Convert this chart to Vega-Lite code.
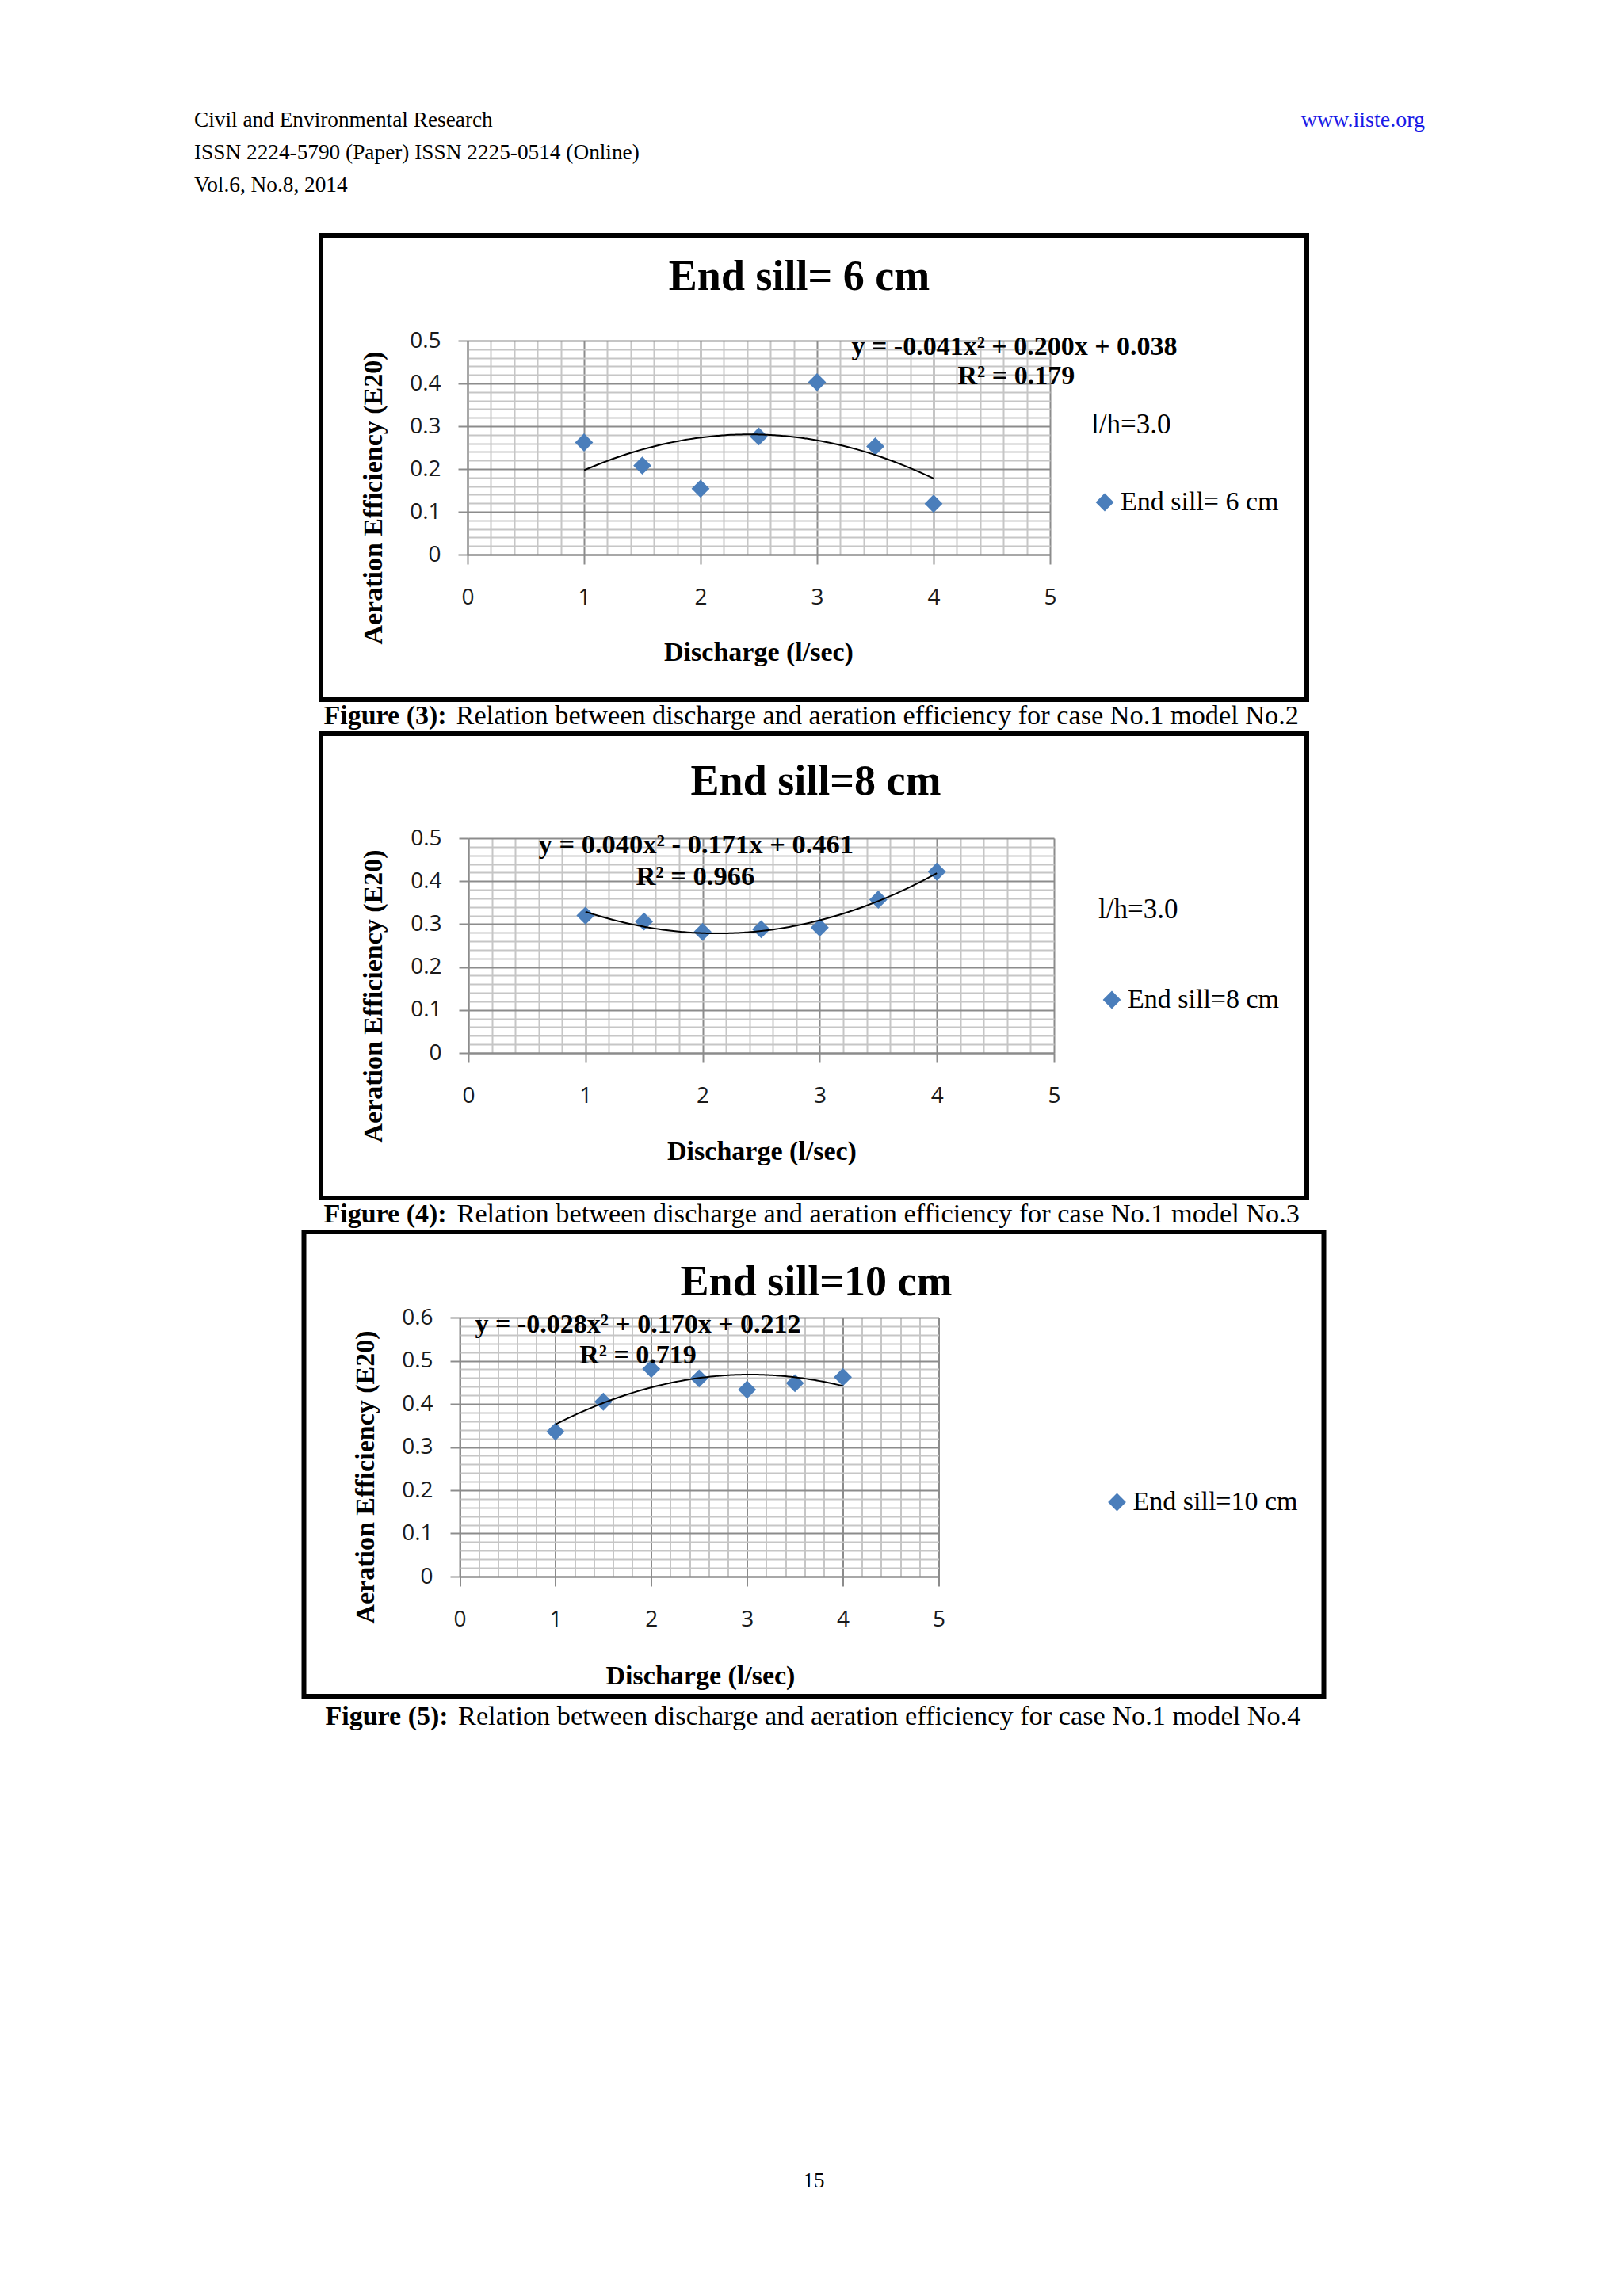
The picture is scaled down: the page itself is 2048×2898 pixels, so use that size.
{
  "$schema": "https://vega.github.io/schema/vega-lite/v6.json",
  "background": "white",
  "padding": {"left": 240, "top": 134, "right": 10, "bottom": 10},
  "bounds": "flush",
  "center": true,
  "spacing": 43,
  "resolve": {"scale": {"color": "independent"}, "legend": {"color": "independent"}},
  "title": {"text": "15", "orient": "bottom", "anchor": "middle", "font": "Liberation Serif", "fontSize": 27, "fontWeight": "normal", "color": "black", "offset": 554},
  "datasets": {
    "header": [
      {"pos": 0, "line": 0, "side": "left", "text": "Civil and Environmental Research"},
      {"pos": 0, "line": 1, "side": "left", "text": "ISSN 2224-5790 (Paper) ISSN 2225-0514 (Online)"},
      {"pos": 0, "line": 2, "side": "left", "text": "Vol.6, No.8, 2014"},
      {"pos": 1, "line": 0, "side": "right", "text": "www.iiste.org"}
    ],
    "sill6": [
      {"discharge": 1, "efficiency": 0.262, "series": "End sill= 6 cm"},
      {"discharge": 1.5, "efficiency": 0.208, "series": "End sill= 6 cm"},
      {"discharge": 2, "efficiency": 0.154, "series": "End sill= 6 cm"},
      {"discharge": 2.5, "efficiency": 0.276, "series": "End sill= 6 cm"},
      {"discharge": 3, "efficiency": 0.403, "series": "End sill= 6 cm"},
      {"discharge": 3.5, "efficiency": 0.253, "series": "End sill= 6 cm"},
      {"discharge": 4, "efficiency": 0.119, "series": "End sill= 6 cm"}
    ],
    "sill6eq": [
      {"discharge": 4.694, "efficiency": 0.485, "label": "y = -0.041x² + 0.200x + 0.038"},
      {"discharge": 4.71, "efficiency": 0.417, "label": "R² = 0.179"}
    ],
    "sill8": [
      {"discharge": 1, "efficiency": 0.32, "series": "End sill=8 cm"},
      {"discharge": 1.5, "efficiency": 0.306, "series": "End sill=8 cm"},
      {"discharge": 2, "efficiency": 0.282, "series": "End sill=8 cm"},
      {"discharge": 2.5, "efficiency": 0.288, "series": "End sill=8 cm"},
      {"discharge": 3, "efficiency": 0.292, "series": "End sill=8 cm"},
      {"discharge": 3.5, "efficiency": 0.357, "series": "End sill=8 cm"},
      {"discharge": 4, "efficiency": 0.422, "series": "End sill=8 cm"}
    ],
    "sill8eq": [
      {"discharge": 1.944, "efficiency": 0.483, "label": "y = 0.040x² - 0.171x + 0.461"},
      {"discharge": 1.937, "efficiency": 0.41, "label": "R² = 0.966"}
    ],
    "sill10": [
      {"discharge": 1, "efficiency": 0.336, "series": "End sill=10 cm"},
      {"discharge": 1.5, "efficiency": 0.405, "series": "End sill=10 cm"},
      {"discharge": 2, "efficiency": 0.481, "series": "End sill=10 cm"},
      {"discharge": 2.5, "efficiency": 0.459, "series": "End sill=10 cm"},
      {"discharge": 3, "efficiency": 0.433, "series": "End sill=10 cm"},
      {"discharge": 3.5, "efficiency": 0.448, "series": "End sill=10 cm"},
      {"discharge": 4, "efficiency": 0.462, "series": "End sill=10 cm"}
    ],
    "sill10eq": [
      {"discharge": 1.861, "efficiency": 0.5835, "label": "y = -0.028x² + 0.170x + 0.212"},
      {"discharge": 1.861, "efficiency": 0.512, "label": "R² = 0.719"}
    ]
  },
  "vconcat": [
    {
      "width": 1574,
      "height": 120,
      "view": {"stroke": null},
      "data": {"name": "header"},
      "layer": [
        {
          "transform": [{"filter": "datum.side == 'left'"}],
          "mark": {"type": "text", "align": "left", "baseline": "middle", "dx": 5, "font": "Liberation Serif", "fontSize": 27.3, "color": "black"},
          "encoding": {
            "x": {"field": "pos", "type": "quantitative", "scale": {"domain": [0, 1], "nice": false},
              "axis": {"orient": "bottom", "offset": 8, "domain": true, "domainColor": "black", "domainWidth": 3, "ticks": false, "labels": false, "grid": false, "title": null}},
            "y": {"field": "line", "type": "quantitative", "scale": {"domain": [0, 2], "range": [18, 100], "nice": false}, "axis": null},
            "text": {"field": "text"}
          }
        },
        {
          "transform": [{"filter": "datum.side == 'right'"}],
          "mark": {"type": "text", "align": "right", "baseline": "middle", "dx": -16, "font": "Liberation Serif", "fontSize": 28, "color": "#1a1ae6"},
          "encoding": {
            "x": {"field": "pos", "type": "quantitative", "scale": {"domain": [0, 1], "nice": false}, "axis": null},
            "y": {"field": "line", "type": "quantitative", "scale": {"domain": [0, 2], "range": [18, 100], "nice": false}, "axis": null},
            "text": {"field": "text"}
          }
        }
      ]
    },
    {
      "width": 1244,
      "height": 586,
      "view": {"stroke": "black", "strokeWidth": 6},
      "resolve": {"axis": {"x": "independent", "y": "independent"}},
      "layer": [
        {
          "data": {"name": "sill6"},
          "mark": {"type": "point", "shape": "diamond", "filled": true, "size": 520, "opacity": 1},
          "encoding": {
            "x": {"field": "discharge", "type": "quantitative", "scale": {"domain": [0, 5], "range": [185, 920], "nice": false},
              "axis": {"orient": "bottom", "offset": -183, "values": [0, 1, 2, 3, 4, 5], "format": "d", "grid": false,
                "domain": true, "domainColor": "#8c8c8c", "domainWidth": 2, "ticks": true, "tickSize": 12, "tickWidth": 2, "tickColor": "#8c8c8c",
                "labelFont": "Open Sans", "labelFontSize": 28, "labelColor": "#1a1a1a", "labelPadding": 28, "labelOverlap": false, "labelFlush": false,
                "title": "Discharge (l/sec)", "titleFont": "Liberation Serif", "titleFontSize": 34, "titleFontWeight": "bold", "titleColor": "black",
                "titleX": 552, "titleY": 123, "titleAlign": "center", "titleBaseline": "middle"}},
            "y": {"field": "efficiency", "type": "quantitative", "scale": {"domain": [0, 0.5], "range": [403, 133], "nice": false},
              "axis": {"orient": "left", "offset": -185,
                "values": [0, 0.02, 0.04, 0.06, 0.08, 0.1, 0.12, 0.14, 0.16, 0.18, 0.2, 0.22, 0.24, 0.26, 0.28, 0.3, 0.32, 0.34, 0.36, 0.38, 0.4, 0.42, 0.44, 0.46, 0.48, 0.5],
                "grid": true, "gridWidth": 2,
                "gridColor": {"condition": {"test": "abs(datum.value*10 - round(datum.value*10)) < 0.001", "value": "#8c8c8c"}, "value": "#c6c6c6"},
                "domain": true, "domainColor": "#8c8c8c", "domainWidth": 2, "ticks": true, "tickSize": 12, "tickWidth": 2,
                "tickColor": {"condition": {"test": "abs(datum.value*10 - round(datum.value*10)) < 0.001", "value": "#8c8c8c"}, "value": "transparent"},
                "labelExpr": "abs(datum.value*10 - round(datum.value*10)) < 0.001 ? format(datum.value, '.1~f') : ''",
                "labelFont": "Open Sans", "labelFontSize": 28, "labelColor": "#1a1a1a", "labelPadding": 22, "labelOverlap": false, "labelFlush": false,
                "title": "Aeration Efficiency (E20)", "titleFont": "Liberation Serif", "titleFontSize": 34, "titleFontWeight": "bold", "titleColor": "black",
                "titleAngle": 270, "titleX": -119, "titleY": 331, "titleAlign": "center", "titleBaseline": "middle"}},
            "color": {"field": "series", "type": "nominal", "scale": {"range": ["#4a7ebb"]},
              "legend": {"orient": "none", "legendX": 972, "legendY": 222, "title": "l/h=3.0",
                "titleFont": "Liberation Serif", "titleFontSize": 35, "titleFontWeight": "normal", "titleColor": "black", "titlePadding": 63,
                "labelFont": "Liberation Serif", "labelFontSize": 34, "labelColor": "black", "labelOffset": 3, "labelLimit": 400,
                "symbolType": "diamond", "symbolSize": 520, "symbolStrokeWidth": 0, "symbolOpacity": 1}}
          }
        },
        {
          "data": {"name": "sill6"},
          "transform": [{"regression": "efficiency", "on": "discharge", "method": "poly", "order": 2}],
          "mark": {"type": "line", "color": "black", "strokeWidth": 2},
          "encoding": {
            "x": {"field": "discharge", "type": "quantitative", "scale": {"domain": [0, 5], "range": [185, 920], "nice": false},
              "axis": {"orient": "top", "offset": 0,
                "values": [0, 0.2, 0.4, 0.6, 0.8, 1, 1.2, 1.4, 1.6, 1.8, 2, 2.2, 2.4, 2.6, 2.8, 3, 3.2, 3.4, 3.6, 3.8, 4, 4.2, 4.4, 4.6, 4.8, 5],
                "grid": true, "gridWidth": 2,
                "gridColor": {"condition": {"test": "abs(datum.value - round(datum.value)) < 0.001", "value": "#8c8c8c"}, "value": "#c6c6c6"},
                "domain": false, "ticks": false, "labels": false,
                "title": "Figure (3):", "titleFont": "Liberation Serif", "titleFontSize": 34, "titleFontWeight": "bold", "titleColor": "black",
                "titleX": 3, "titleY": 616, "titleAlign": "left", "titleBaseline": "alphabetic"}},
            "y": {"field": "efficiency", "type": "quantitative", "scale": {"domain": [0, 0.5], "range": [403, 133], "nice": false},
              "axis": {"orient": "right", "offset": 0, "grid": false, "domain": false, "ticks": false, "labels": false,
                "title": "Relation between discharge and aeration efficiency for case No.1 model No.2",
                "titleFont": "Liberation Serif", "titleFontSize": 34.3, "titleFontWeight": "normal", "titleColor": "black",
                "titleAngle": 0, "titleX": -1074, "titleY": 616, "titleAlign": "left", "titleBaseline": "alphabetic", "titleLimit": 2000}}
          }
        },
        {
          "data": {"name": "sill6eq"},
          "mark": {"type": "text", "font": "Liberation Serif", "fontSize": 34, "fontWeight": "bold", "color": "black"},
          "encoding": {
            "x": {"field": "discharge", "type": "quantitative", "scale": {"domain": [0, 5], "range": [185, 920], "nice": false},
              "axis": {"orient": "top", "offset": 0, "grid": false, "domain": false, "ticks": false, "labels": false,
                "title": "End sill= 6 cm", "titleFont": "Liberation Serif", "titleFontSize": 54, "titleFontWeight": "bold", "titleColor": "black",
                "titleX": 603, "titleY": 68, "titleAlign": "center", "titleBaseline": "alphabetic", "titleLimit": 2000}},
            "y": {"field": "efficiency", "type": "quantitative", "scale": {"domain": [0, 0.5], "range": [403, 133], "nice": false}, "axis": null},
            "text": {"field": "label"}
          }
        }
      ]
    },
    {
      "width": 1244,
      "height": 586,
      "view": {"stroke": "black", "strokeWidth": 6},
      "resolve": {"axis": {"x": "independent", "y": "independent"}},
      "layer": [
        {
          "data": {"name": "sill8"},
          "mark": {"type": "point", "shape": "diamond", "filled": true, "size": 520, "opacity": 1},
          "encoding": {
            "x": {"field": "discharge", "type": "quantitative", "scale": {"domain": [0, 5], "range": [186, 925], "nice": false},
              "axis": {"orient": "bottom", "offset": -183, "values": [0, 1, 2, 3, 4, 5], "format": "d", "grid": false,
                "domain": true, "domainColor": "#8c8c8c", "domainWidth": 2, "ticks": true, "tickSize": 12, "tickWidth": 2, "tickColor": "#8c8c8c",
                "labelFont": "Open Sans", "labelFontSize": 28, "labelColor": "#1a1a1a", "labelPadding": 28, "labelOverlap": false, "labelFlush": false,
                "title": "Discharge (l/sec)", "titleFont": "Liberation Serif", "titleFontSize": 34, "titleFontWeight": "bold", "titleColor": "black",
                "titleX": 556, "titleY": 124, "titleAlign": "center", "titleBaseline": "middle"}},
            "y": {"field": "efficiency", "type": "quantitative", "scale": {"domain": [0, 0.5], "range": [403, 132], "nice": false},
              "axis": {"orient": "left", "offset": -186,
                "values": [0, 0.02, 0.04, 0.06, 0.08, 0.1, 0.12, 0.14, 0.16, 0.18, 0.2, 0.22, 0.24, 0.26, 0.28, 0.3, 0.32, 0.34, 0.36, 0.38, 0.4, 0.42, 0.44, 0.46, 0.48, 0.5],
                "grid": true, "gridWidth": 2,
                "gridColor": {"condition": {"test": "abs(datum.value*10 - round(datum.value*10)) < 0.001", "value": "#8c8c8c"}, "value": "#c6c6c6"},
                "domain": true, "domainColor": "#8c8c8c", "domainWidth": 2, "ticks": true, "tickSize": 12, "tickWidth": 2,
                "tickColor": {"condition": {"test": "abs(datum.value*10 - round(datum.value*10)) < 0.001", "value": "#8c8c8c"}, "value": "transparent"},
                "labelExpr": "abs(datum.value*10 - round(datum.value*10)) < 0.001 ? format(datum.value, '.1~f') : ''",
                "labelFont": "Open Sans", "labelFontSize": 28, "labelColor": "#1a1a1a", "labelPadding": 22, "labelOverlap": false, "labelFlush": false,
                "title": "Aeration Efficiency (E20)", "titleFont": "Liberation Serif", "titleFontSize": 34, "titleFontWeight": "bold", "titleColor": "black",
                "titleAngle": 270, "titleX": -120, "titleY": 331, "titleAlign": "center", "titleBaseline": "middle"}},
            "color": {"field": "series", "type": "nominal", "scale": {"range": ["#4a7ebb"]},
              "legend": {"orient": "none", "legendX": 981, "legendY": 205, "title": "l/h=3.0",
                "titleFont": "Liberation Serif", "titleFontSize": 35, "titleFontWeight": "normal", "titleColor": "black", "titlePadding": 79,
                "labelFont": "Liberation Serif", "labelFontSize": 34, "labelColor": "black", "labelOffset": 3, "labelLimit": 400,
                "symbolType": "diamond", "symbolSize": 520, "symbolStrokeWidth": 0, "symbolOpacity": 1}}
          }
        },
        {
          "data": {"name": "sill8"},
          "transform": [{"regression": "efficiency", "on": "discharge", "method": "poly", "order": 2}],
          "mark": {"type": "line", "color": "black", "strokeWidth": 2},
          "encoding": {
            "x": {"field": "discharge", "type": "quantitative", "scale": {"domain": [0, 5], "range": [186, 925], "nice": false},
              "axis": {"orient": "top", "offset": 0,
                "values": [0, 0.2, 0.4, 0.6, 0.8, 1, 1.2, 1.4, 1.6, 1.8, 2, 2.2, 2.4, 2.6, 2.8, 3, 3.2, 3.4, 3.6, 3.8, 4, 4.2, 4.4, 4.6, 4.8, 5],
                "grid": true, "gridWidth": 2,
                "gridColor": {"condition": {"test": "abs(datum.value - round(datum.value)) < 0.001", "value": "#8c8c8c"}, "value": "#c6c6c6"},
                "domain": false, "ticks": false, "labels": false,
                "title": "Figure (4):", "titleFont": "Liberation Serif", "titleFontSize": 34, "titleFontWeight": "bold", "titleColor": "black",
                "titleX": 3, "titleY": 616, "titleAlign": "left", "titleBaseline": "alphabetic"}},
            "y": {"field": "efficiency", "type": "quantitative", "scale": {"domain": [0, 0.5], "range": [403, 132], "nice": false},
              "axis": {"orient": "right", "offset": 0, "grid": false, "domain": false, "ticks": false, "labels": false,
                "title": "Relation between discharge and aeration efficiency for case No.1 model No.3",
                "titleFont": "Liberation Serif", "titleFontSize": 34.3, "titleFontWeight": "normal", "titleColor": "black",
                "titleAngle": 0, "titleX": -1073, "titleY": 616, "titleAlign": "left", "titleBaseline": "alphabetic", "titleLimit": 2000}}
          }
        },
        {
          "data": {"name": "sill8eq"},
          "mark": {"type": "text", "font": "Liberation Serif", "fontSize": 34.5, "fontWeight": "bold", "color": "black"},
          "encoding": {
            "x": {"field": "discharge", "type": "quantitative", "scale": {"domain": [0, 5], "range": [186, 925], "nice": false},
              "axis": {"orient": "top", "offset": 0, "grid": false, "domain": false, "ticks": false, "labels": false,
                "title": "End sill=8 cm", "titleFont": "Liberation Serif", "titleFontSize": 54, "titleFontWeight": "bold", "titleColor": "black",
                "titleX": 624, "titleY": 76, "titleAlign": "center", "titleBaseline": "alphabetic", "titleLimit": 2000}},
            "y": {"field": "efficiency", "type": "quantitative", "scale": {"domain": [0, 0.5], "range": [403, 132], "nice": false}, "axis": null},
            "text": {"field": "label"}
          }
        }
      ]
    },
    {
      "width": 1287,
      "height": 586,
      "view": {"stroke": "black", "strokeWidth": 6},
      "resolve": {"axis": {"x": "independent", "y": "independent"}},
      "layer": [
        {
          "data": {"name": "sill10"},
          "mark": {"type": "point", "shape": "diamond", "filled": true, "size": 520, "opacity": 1},
          "encoding": {
            "x": {"field": "discharge", "type": "quantitative", "scale": {"domain": [0, 5], "range": [196.5, 801], "nice": false},
              "axis": {"orient": "bottom", "offset": -151, "values": [0, 1, 2, 3, 4, 5], "format": "d", "grid": false,
                "domain": true, "domainColor": "#8c8c8c", "domainWidth": 2, "ticks": true, "tickSize": 12, "tickWidth": 2, "tickColor": "#8c8c8c",
                "labelFont": "Open Sans", "labelFontSize": 28, "labelColor": "#1a1a1a", "labelPadding": 28, "labelOverlap": false, "labelFlush": false,
                "title": "Discharge (l/sec)", "titleFont": "Liberation Serif", "titleFontSize": 34, "titleFontWeight": "bold", "titleColor": "black",
                "titleX": 500, "titleY": 125, "titleAlign": "center", "titleBaseline": "middle"}},
            "y": {"field": "efficiency", "type": "quantitative", "scale": {"domain": [0, 0.6], "range": [435, 108], "nice": false},
              "axis": {"orient": "left", "offset": -196.5,
                "values": [0, 0.02, 0.04, 0.06, 0.08, 0.1, 0.12, 0.14, 0.16, 0.18, 0.2, 0.22, 0.24, 0.26, 0.28, 0.3, 0.32, 0.34, 0.36, 0.38, 0.4, 0.42, 0.44, 0.46, 0.48, 0.5, 0.52, 0.54, 0.56, 0.58, 0.6],
                "grid": true, "gridWidth": 2,
                "gridColor": {"condition": {"test": "abs(datum.value*10 - round(datum.value*10)) < 0.001", "value": "#8c8c8c"}, "value": "#c6c6c6"},
                "domain": true, "domainColor": "#8c8c8c", "domainWidth": 2, "ticks": true, "tickSize": 12, "tickWidth": 2,
                "tickColor": {"condition": {"test": "abs(datum.value*10 - round(datum.value*10)) < 0.001", "value": "#8c8c8c"}, "value": "transparent"},
                "labelExpr": "abs(datum.value*10 - round(datum.value*10)) < 0.001 ? format(datum.value, '.1~f') : ''",
                "labelFont": "Open Sans", "labelFontSize": 28, "labelColor": "#1a1a1a", "labelPadding": 22, "labelOverlap": false, "labelFlush": false,
                "title": "Aeration Efficiency (E20)", "titleFont": "Liberation Serif", "titleFontSize": 34, "titleFontWeight": "bold", "titleColor": "black",
                "titleAngle": 270, "titleX": -119, "titleY": 309, "titleAlign": "center", "titleBaseline": "middle"}},
            "color": {"field": "series", "type": "nominal", "scale": {"range": ["#4a7ebb"]},
              "legend": {"orient": "none", "legendX": 1009, "legendY": 324, "title": null,
                "labelFont": "Liberation Serif", "labelFontSize": 34, "labelColor": "black", "labelOffset": 3, "labelLimit": 400,
                "symbolType": "diamond", "symbolSize": 520, "symbolStrokeWidth": 0, "symbolOpacity": 1}}
          }
        },
        {
          "data": {"name": "sill10"},
          "transform": [{"regression": "efficiency", "on": "discharge", "method": "poly", "order": 2}],
          "mark": {"type": "line", "color": "black", "strokeWidth": 2},
          "encoding": {
            "x": {"field": "discharge", "type": "quantitative", "scale": {"domain": [0, 5], "range": [196.5, 801], "nice": false},
              "axis": {"orient": "top", "offset": 0,
                "values": [0, 0.2, 0.4, 0.6, 0.8, 1, 1.2, 1.4, 1.6, 1.8, 2, 2.2, 2.4, 2.6, 2.8, 3, 3.2, 3.4, 3.6, 3.8, 4, 4.2, 4.4, 4.6, 4.8, 5],
                "grid": true, "gridWidth": 2,
                "gridColor": {"condition": {"test": "abs(datum.value - round(datum.value)) < 0.001", "value": "#8c8c8c"}, "value": "#c6c6c6"},
                "domain": false, "ticks": false, "labels": false,
                "title": "Figure (5):", "titleFont": "Liberation Serif", "titleFontSize": 34, "titleFontWeight": "bold", "titleColor": "black",
                "titleX": 26.5, "titleY": 621, "titleAlign": "left", "titleBaseline": "alphabetic"}},
            "y": {"field": "efficiency", "type": "quantitative", "scale": {"domain": [0, 0.6], "range": [435, 108], "nice": false},
              "axis": {"orient": "right", "offset": 0, "grid": false, "domain": false, "ticks": false, "labels": false,
                "title": "Relation between discharge and aeration efficiency for case No.1 model No.4",
                "titleFont": "Liberation Serif", "titleFontSize": 34.3, "titleFontWeight": "normal", "titleColor": "black",
                "titleAngle": 0, "titleX": -1093, "titleY": 621, "titleAlign": "left", "titleBaseline": "alphabetic", "titleLimit": 2000}}
          }
        },
        {
          "data": {"name": "sill10eq"},
          "mark": {"type": "text", "font": "Liberation Serif", "fontSize": 34, "fontWeight": "bold", "color": "black"},
          "encoding": {
            "x": {"field": "discharge", "type": "quantitative", "scale": {"domain": [0, 5], "range": [196.5, 801], "nice": false},
              "axis": {"orient": "top", "offset": 0, "grid": false, "domain": false, "ticks": false, "labels": false,
                "title": "End sill=10 cm", "titleFont": "Liberation Serif", "titleFontSize": 54, "titleFontWeight": "bold", "titleColor": "black",
                "titleX": 646, "titleY": 79, "titleAlign": "center", "titleBaseline": "alphabetic", "titleLimit": 2000}},
            "y": {"field": "efficiency", "type": "quantitative", "scale": {"domain": [0, 0.6], "range": [435, 108], "nice": false}, "axis": null},
            "text": {"field": "label"}
          }
        }
      ]
    }
  ]
}
